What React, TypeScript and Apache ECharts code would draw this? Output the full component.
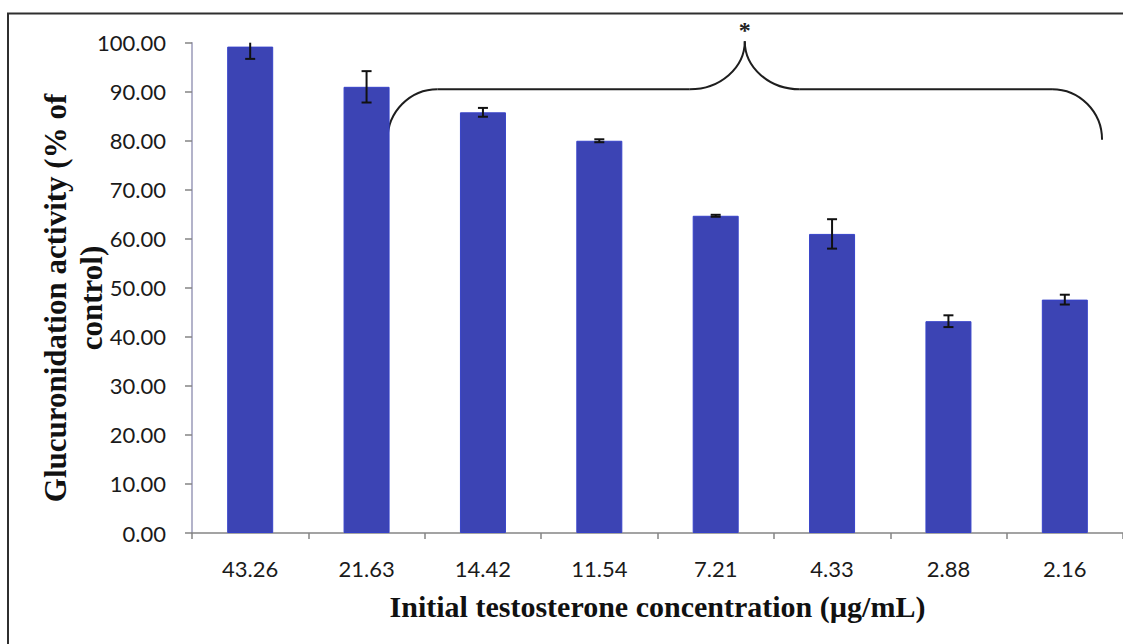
import React, { useEffect, useRef } from "react";
import * as echarts from "echarts";

// Initial testosterone concentrations (µg/mL), one bar each
const categories = ["43.26", "21.63", "14.42", "11.54", "7.21", "4.33", "2.88", "2.16"];
// Glucuronidation activity, % of control
const activity = [99.2, 91.0, 85.8, 80.0, 64.7, 61.0, 43.2, 47.6];
// Error bar half-widths
const errors = [2.5, 3.2, 0.9, 0.3, 0.2, 3.0, 1.2, 1.0];

const yMin = 0;
const yMax = 100;
const yInterval = 10;

// Significance bracket in axis units (category position, % of control)
const braceFrom = 1.18;
const braceTo = 7.32;
const braceFoot = 80.2;
const braceLevel = 90.5;
const bracePeak = 100.3;
const starLevel = 102.6;
const starText = "*";

const xTitle = "Initial testosterone concentration (µg/mL)";
const yTitle = "Glucuronidation activity (% of\ncontrol)";

const serif = "'Liberation Serif', 'Times New Roman', serif";
const sans = "Lato, 'Open Sans', sans-serif";

export default function App() {
  const ref = useRef<HTMLDivElement>(null);

  useEffect(() => {
    if (!ref.current) return;
    const chart = echarts.init(ref.current, undefined, { renderer: "svg" });

    // whisker rows: [category index, low, high, draw top cap]
    const whiskers = activity.map((v, i) => {
      const hi = v + errors[i];
      return [i, v - errors[i], Math.min(hi, yMax), hi <= yMax ? 1 : 0];
    });

    chart.setOption({
      animation: false,
      backgroundColor: "#ffffff",
      grid: { left: 192, top: 42.7, width: 938, bottom: 111 },
      xAxis: {
        type: "category",
        data: categories,
        axisLine: { show: true, lineStyle: { color: "#858585", width: 1.5 } },
        axisTick: { show: true, length: 6, lineStyle: { color: "#858585", width: 1.5 } },
        axisLabel: { color: "#1a1a1a", fontFamily: sans, fontSize: 22, margin: 24 },
        splitLine: { show: false },
        name: xTitle,
        nameLocation: "middle",
        nameGap: 58,
        nameTextStyle: { fontFamily: serif, fontWeight: "bold", fontSize: 30, color: "#111" },
      },
      yAxis: {
        type: "value",
        min: yMin,
        max: yMax,
        interval: yInterval,
        axisLine: { show: true, lineStyle: { color: "#9a9ab8", width: 1.5 } },
        axisTick: { show: true, length: 7, lineStyle: { color: "#858585", width: 1.5 } },
        axisLabel: {
          color: "#1a1a1a",
          fontFamily: sans,
          fontSize: 22,
          margin: 26,
          formatter: (v: number) => v.toFixed(2),
        },
        splitLine: { show: false },
      },
      series: [
        {
          type: "bar",
          data: activity,
          barWidth: 46,
          itemStyle: { color: "#3c44b4", borderColor: "#3642c8", borderWidth: 1 },
        },
        {
          type: "custom",
          data: whiskers,
          encode: { x: 0, y: [1, 2] },
          z: 5,
          clip: false,
          renderItem: (params: any, api: any) => {
            const idx = api.value(0);
            const lo = api.coord([idx, api.value(1)]);
            const hi = api.coord([idx, api.value(2)]);
            const cap = 5;
            const style = { stroke: "#111", lineWidth: 2 };
            const children: any[] = [
              { type: "line", shape: { x1: lo[0], y1: lo[1], x2: hi[0], y2: hi[1] }, style },
              { type: "line", shape: { x1: lo[0] - cap, y1: lo[1], x2: lo[0] + cap, y2: lo[1] }, style },
            ];
            if (api.value(3)) {
              children.push({
                type: "line",
                shape: { x1: hi[0] - cap, y1: hi[1], x2: hi[0] + cap, y2: hi[1] },
                style,
              });
            }
            return { type: "group", children };
          },
        },
      ],
    });

    // bracket and frame, placed through the axes
    const x0 = chart.convertToPixel({ xAxisIndex: 0 }, 0) as number;
    const x1 = chart.convertToPixel({ xAxisIndex: 0 }, 1) as number;
    const px = (pos: number) => x0 + (x1 - x0) * pos;
    const py = (v: number) => chart.convertToPixel({ yAxisIndex: 0 }, v) as number;

    const xL = px(braceFrom);
    const xR = px(braceTo);
    const xM = (xL + xR) / 2;
    const yF = py(braceFoot);
    const yB = py(braceLevel);
    const yP = py(bracePeak);
    const rEnd = 50;
    const rMid = 55;
    const k = 0.552;
    const stroke = { stroke: "#1e1e1e", lineWidth: 2, fill: null };

    chart.setOption({
      graphic: [
        {
          type: "rect",
          shape: { x: 8, y: 13.5, width: 1140, height: 660 },
          style: { stroke: "#2f2f2f", lineWidth: 2, fill: null },
          silent: true,
        },
        {
          type: "text",
          x: 73,
          y: 298,
          rotation: Math.PI / 2,
          style: {
            text: yTitle,
            font: `bold 31px ${serif}`,
            fill: "#111",
            align: "center",
            verticalAlign: "middle",
            lineHeight: 36,
          },
        },
        {
          type: "bezierCurve",
          shape: { x1: xL, y1: yF, cpx1: xL, cpy1: yF - k * (yF - yB), cpx2: xL + rEnd * (1 - k), cpy2: yB, x2: xL + rEnd, y2: yB },
          style: stroke,
        },
        { type: "line", shape: { x1: xL + rEnd, y1: yB, x2: xM - rMid, y2: yB }, style: stroke },
        {
          type: "bezierCurve",
          shape: { x1: xM - rMid, y1: yB, cpx1: xM - rMid * (1 - k), cpy1: yB, cpx2: xM, cpy2: yP + k * (yB - yP), x2: xM, y2: yP },
          style: stroke,
        },
        {
          type: "bezierCurve",
          shape: { x1: xM, y1: yP, cpx1: xM, cpy1: yP + k * (yB - yP), cpx2: xM + rMid * (1 - k), cpy2: yB, x2: xM + rMid, y2: yB },
          style: stroke,
        },
        { type: "line", shape: { x1: xM + rMid, y1: yB, x2: xR - rEnd, y2: yB }, style: stroke },
        {
          type: "bezierCurve",
          shape: { x1: xR - rEnd, y1: yB, cpx1: xR - rEnd * (1 - k), cpy1: yB, cpx2: xR, cpy2: yF - k * (yF - yB), x2: xR, y2: yF },
          style: stroke,
        },
        {
          type: "text",
          x: xM,
          y: py(starLevel),
          style: {
            text: starText,
            font: `bold 24px ${serif}`,
            fill: "#222",
            align: "center",
            verticalAlign: "middle",
          },
        },
      ],
    });

    return () => chart.dispose();
  }, []);

  return (
    <div
      ref={ref}
      style={{ position: "fixed", left: 0, top: 0, width: 1123, height: 644, background: "#fff" }}
    />
  );
}
